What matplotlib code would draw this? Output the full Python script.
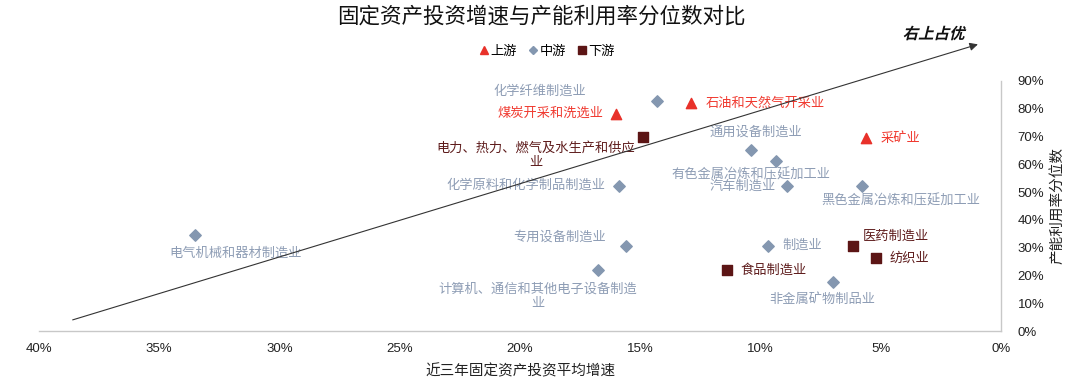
import matplotlib
matplotlib.use("Agg")
import matplotlib.pyplot as plt
from matplotlib.lines import Line2D
from matplotlib.ticker import FuncFormatter
from matplotlib.textpath import TextPath
from matplotlib.patches import PathPatch
from matplotlib.font_manager import FontProperties
from matplotlib.transforms import Affine2D, IdentityTransform

plt.rcParams['font.family'] = ['Liberation Sans', 'Noto Sans CJK SC', 'DejaVu Sans']

# 上游
up_names = ["煤炭开采和洗选业", "石油和天然气开采业", "采矿业"]
up_x = [16.0, 12.9, 5.6]
up_y = [78.1, 82.0, 69.4]

# 中游
mid_names = ["化学纤维制造业", "通用设备制造业", "有色金属冶炼和压延加工业", "化学原料和化学制品制造业",
             "汽车制造业", "黑色金属冶炼和压延加工业", "专用设备制造业",
             "计算机、通信和其他电子设备制造\n业", "制造业", "非金属矿物制品业", "电气机械和器材制造业"]
mid_x = [14.3, 10.4, 9.35, 15.9, 8.9, 5.8, 15.6, 16.75, 9.7, 7.0, 33.5]
mid_y = [82.7, 65.1, 61.2, 52.2, 52.2, 52.2, 30.6, 21.9, 30.6, 17.6, 34.5]

# 下游
down_names = ["电力、热力、燃气及水生产和供应\n业", "医药制造业", "纺织业", "食品制造业"]
down_x = [14.9, 6.15, 5.2, 11.4]
down_y = [69.8, 30.6, 26.3, 21.9]

x_ticks = [40, 35, 30, 25, 20, 15, 10, 5, 0]
y_ticks = [0, 10, 20, 30, 40, 50, 60, 70, 80, 90]

red = "#e8312a"
red_txt = "#f0392f"
blue = "#8497b0"
blue_txt = "#8e9db5"
brown = "#5c1515"
brown_txt = "#5e1c1c"

# label placement: (dx, dy) in pixels, horizontal alignment
up_pos = [(-13, 0, "right"), (15, 0, "left"), (14, 0, "left")]
mid_pos = [(-117, 10, "center"), (5, 18, "center"), (-25, -14, "center"), (-13, 0, "right"),
           (-11, 0, "right"), (39, -15, "center"), (-20, 9, "right"), (-60, -26, "center"),
           (15, 0, "left"), (-10, -17, "center"), (40, -18, "center")]
down_pos = [(-107, -18, "center"), (10, 9, "left"), (14, 0, "left"), (14, 0, "left")]

fig = plt.figure(figsize=(10.8, 3.88), dpi=100)
ax = fig.add_axes([39 / 1080, 57 / 388, 962 / 1080, 250 / 388])

ax.scatter(up_x, up_y, marker="^", s=55, color=red, zorder=3)
ax.scatter(mid_x, mid_y, marker="D", s=34, color=blue, zorder=3)
ax.scatter(down_x, down_y, marker="s", s=50, color=brown, zorder=3)


def put_labels(names, xs, ys, pos, color):
    for n, x, y, p in zip(names, xs, ys, pos):
        ax.annotate(n, (x, y), xytext=(p[0], p[1]), textcoords="offset pixels",
                    ha=p[2], va="center", fontsize=9.5, color=color,
                    multialignment="center", linespacing=1.25)


put_labels(up_names, up_x, up_y, up_pos, red_txt)
put_labels(mid_names, mid_x, mid_y, mid_pos, blue_txt)
put_labels(down_names, down_x, down_y, down_pos, brown_txt)

ax.set_xlim(40, 0)
ax.set_ylim(0, 90)
ax.set_xticks(x_ticks)
ax.set_yticks(y_ticks)
ax.xaxis.set_major_formatter(FuncFormatter(lambda v, p: f"{v:.0f}%"))
ax.yaxis.set_major_formatter(FuncFormatter(lambda v, p: f"{v:.0f}%"))
ax.yaxis.tick_right()
ax.yaxis.set_label_position("right")
ax.tick_params(axis="both", length=0, labelsize=9.5, colors="#222222")
ax.tick_params(axis="x", pad=9)
ax.tick_params(axis="y", pad=12)
for s in ["top", "left"]:
    ax.spines[s].set_visible(False)
for s in ["bottom", "right"]:
    ax.spines[s].set_color("#c8c8c8")
    ax.spines[s].set_linewidth(1.0)

ax.set_xlabel("近三年固定资产投资平均增速", fontsize=10.5, color="#222222", labelpad=6)
ax.set_ylabel("产能利用率分位数", fontsize=10.5, color="#222222", labelpad=4)

# trend arrow
ax.annotate("", xy=(0.96, 103.2), xytext=(38.6, 4.0), xycoords="data",
            arrowprops=dict(arrowstyle="-|>", color="#333333", lw=0.8,
                            mutation_scale=12, shrinkA=0, shrinkB=0),
            annotation_clip=False)

# slanted bold label (CJK font has no italic, so skew the glyph outlines)
tp = TextPath((0, 0), "右上占优", size=15.5,
              prop=FontProperties(family="Noto Sans CJK SC", weight="bold"))
bb = tp.get_extents()
cx, cy = 935, 388 - 33
tr = (Affine2D().translate(-(bb.x0 + bb.x1) / 2, -(bb.y0 + bb.y1) / 2)
      .skew_deg(14, 0).translate(cx, cy))
fig.patches.append(PathPatch(tr.transform_path(tp), transform=IdentityTransform(),
                             facecolor="#111111", edgecolor="none", figure=fig))

fig.text(541 / 1080, 1 - 17 / 388, "固定资产投资增速与产能利用率分位数对比",
         fontsize=15.5, ha="center", va="center", color="#111111")

handles = [Line2D([], [], marker="^", color=red, linestyle="none", markersize=6),
           Line2D([], [], marker="D", color=blue, linestyle="none", markersize=4.5),
           Line2D([], [], marker="s", color=brown, linestyle="none", markersize=5.5)]
fig.legend(handles, ["上游", "中游", "下游"], loc="center", ncol=3,
           bbox_to_anchor=(547 / 1080, 1 - 52 / 388), frameon=False, fontsize=9.5,
           handlelength=0.8, handletextpad=0.1, columnspacing=0.8)

fig.savefig("out.png", dpi=100)
